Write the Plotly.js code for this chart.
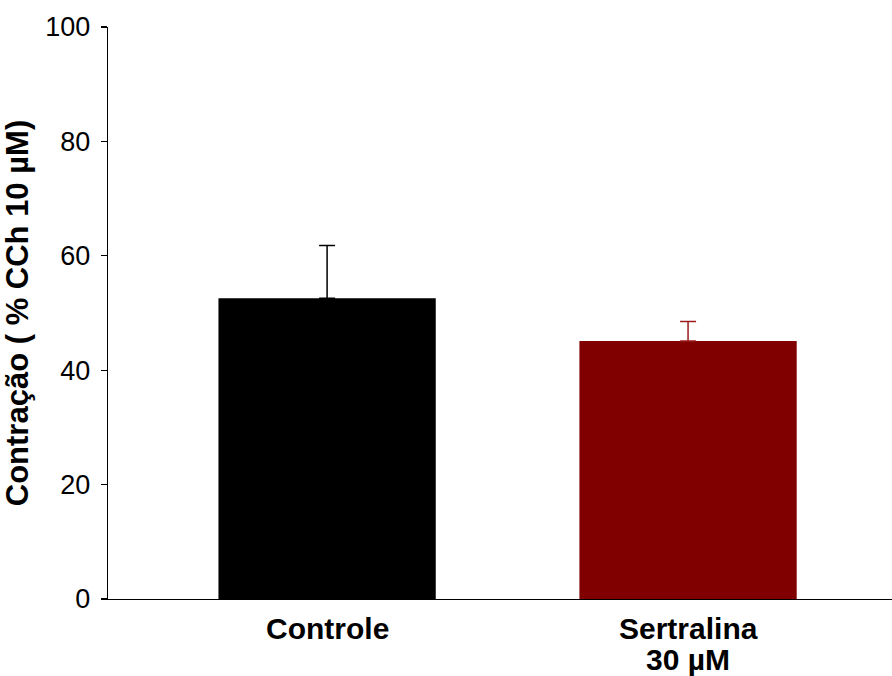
<!DOCTYPE html>
<html>
<head>
<meta charset="utf-8">
<script src="https://cdn.plot.ly/plotly-3.0.1.min.js"></script>
<style>html,body{margin:0;padding:0;background:#fff}#chart{width:892px;height:676px}</style>
</head>
<body>
<div id="chart"></div>
<script>
const categories = ["Controle", "Sertralina<br>30 µM"];
const means = [52.6, 45.1];
const errorsUp = [9.2, 3.4];
const barColors = ["#000000", "#800000"];
const errColors = ["#000000", "#9b1c1c"];
const yTicks = [0, 20, 40, 60, 80, 100];

const traces = categories.map((c, i) => ({
  type: "bar",
  x: [c],
  y: [means[i]],
  width: 0.602,
  marker: {color: barColors[i], line: {width: 0}},
  error_y: {type: "data", array: [errorsUp[i]], arrayminus: [0], symmetric: false,
            color: errColors[i], thickness: 1.5, width: 8},
  showlegend: false,
  hoverinfo: "none"
}));

// category labels drawn line by line (tighter line spacing than Plotly default)
const annotations = [];
categories.forEach(c => {
  c.split("<br>").forEach((line, j) => {
    annotations.push({
      x: c, y: 0, xref: "x", yref: "y",
      text: "<b>" + line + "</b>", showarrow: false,
      xanchor: "center", yanchor: "top",
      yshift: -11 - j * 31,
      font: {size: 30, family: "Liberation Sans, Arial, sans-serif", color: "#000"}
    });
  });
});

const layout = {
  width: 892, height: 676,
  margin: {l: 108, r: 0, t: 27, b: 77, pad: 0},
  paper_bgcolor: "#fff", plot_bgcolor: "#fff",
  font: {family: "Liberation Sans, Arial, sans-serif", color: "#000"},
  xaxis: {
    type: "category",
    range: [-0.607, 1.565],
    showline: true, linecolor: "#000", linewidth: 1.3,
    ticks: "", showgrid: false, zeroline: false,
    showticklabels: false
  },
  yaxis: {
    range: [0, 100],
    tickvals: yTicks, ticktext: yTicks.map(String),
    showline: true, linecolor: "#000", linewidth: 1.3,
    ticks: "outside", ticklen: 6, tickwidth: 1.3, tickcolor: "#000",
    showgrid: false, zeroline: false,
    tickfont: {size: 27},
    ticklabelstandoff: 5,
    title: {text: "<b>Contração ( % CCh 10 µM)</b>", font: {size: 31}, standoff: 12}
  },
  annotations: annotations
};

Plotly.newPlot("chart", traces, layout, {staticPlot: true, displayModeBar: false});
</script>
</body>
</html>
